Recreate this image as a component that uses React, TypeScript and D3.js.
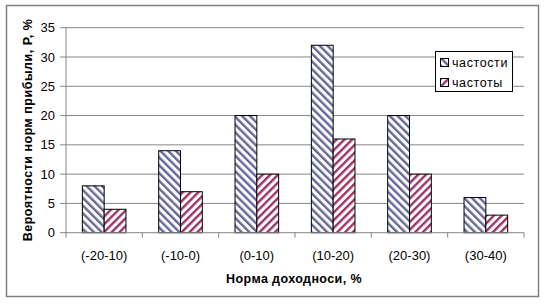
import React from "react";
import * as d3 from "d3";

const categories = ["(-20-10)", "(-10-0)", "(0-10)", "(10-20)", "(20-30)", "(30-40)"];
const seriesNames = ["частости", "частоты"];
const chastosti = [8, 14, 20, 32, 20, 6];
const chastoty = [4, 7, 10, 16, 10, 3];
const yTicks = [0, 5, 10, 15, 20, 25, 30, 35];

const W = 545;
const H = 304;
const plot = { left: 66, right: 524, top: 27.7, bottom: 232.7 };
const FONT = "'Liberation Sans', Arial, sans-serif";

export default function App() {
  const x = d3.scaleBand<string>().domain(categories).range([plot.left, plot.right]).paddingInner(0).paddingOuter(0);
  const inner = d3.scaleBand<string>().domain(seriesNames).range([0, x.bandwidth()]).paddingInner(0).paddingOuter(0.75);
  const y = d3.scaleLinear().domain([0, 35]).range([plot.bottom, plot.top]);
  const series = [
    { name: seriesNames[0], values: chastosti, fill: "url(#patBlue)" },
    { name: seriesNames[1], values: chastoty, fill: "url(#patRed)" },
  ];
  const boundaries = d3.range(categories.length + 1).map((i) => plot.left + i * x.step());
  return (
    <svg width={W} height={H} style={{ position: "absolute", left: 0, top: 0, display: "block" }}>
      <defs>
        <pattern id="patBlue" patternUnits="userSpaceOnUse" width={5.5} height={5.5} patternTransform="rotate(-45)">
          <rect width={5.5} height={5.5} fill="#ffffff" />
          <rect x={0} y={0} width={2.4} height={5.5} fill="#66669c" />
        </pattern>
        <pattern id="patRed" patternUnits="userSpaceOnUse" width={5.5} height={5.5} patternTransform="rotate(45)">
          <rect width={5.5} height={5.5} fill="#ffffff" />
          <rect x={0} y={0} width={2.4} height={5.5} fill="#9c3366" />
        </pattern>
      </defs>
      <rect x={0} y={0} width={W} height={H} fill="#ffffff" />
      <rect x={6.5} y={5.5} width={532} height={291} fill="#ffffff" stroke="#808080" strokeWidth={1.5} />
      {yTicks.map((t) => (
        <g key={t}>
          {t > 0 && <line x1={plot.left} x2={plot.right} y1={y(t)} y2={y(t)} stroke="#868686" strokeWidth={1} />}
          <line x1={plot.left - 6} x2={plot.left} y1={y(t)} y2={y(t)} stroke="#868686" strokeWidth={1} />
          <text x={55} y={y(t)} dy="0.35em" textAnchor="end" fontFamily={FONT} fontSize={13} fill="#000">
            {t}
          </text>
        </g>
      ))}
      {series.map((s) =>
        s.values.map((v, i) => {
          const bx = (x(categories[i]) as number) + (inner(s.name) as number);
          return (
            <rect
              key={s.name + i}
              x={bx}
              y={y(v)}
              width={inner.bandwidth()}
              height={y(0) - y(v)}
              fill={s.fill}
              stroke="#000"
              strokeWidth={1}
            />
          );
        })
      )}
      <line x1={plot.left} x2={plot.left} y1={plot.top} y2={plot.bottom} stroke="#868686" strokeWidth={1} />
      <line x1={plot.left} x2={plot.right} y1={plot.bottom} y2={plot.bottom} stroke="#868686" strokeWidth={1} />
      {boundaries.map((b, i) => (
        <line key={i} x1={b} x2={b} y1={plot.bottom} y2={plot.bottom + 5} stroke="#868686" strokeWidth={1} />
      ))}
      {categories.map((c) => (
        <text key={c} x={(x(c) as number) + x.bandwidth() / 2} y={260} textAnchor="middle" fontFamily={FONT} fontSize={13} fill="#000">
          {c}
        </text>
      ))}
      <text x={294} y={283} textAnchor="middle" fontFamily={FONT} fontSize={12.5} fontWeight="bold" letterSpacing={0.4} fill="#000">
        Норма доходноси, %
      </text>
      <text
        transform={`translate(32,130) rotate(-90)`}
        textAnchor="middle"
        fontFamily={FONT}
        fontSize={12.5}
        fontWeight="bold"
        letterSpacing={0.5}
        fill="#000"
      >
        Вероятности норм прибыли, Р, %
      </text>
      <g>
        <rect x={435.5} y={51.5} width={77} height={40} fill="#ffffff" stroke="#000" strokeWidth={1} />
        {series.map((s, i) => (
          <g key={s.name} transform={`translate(0,${i * 20})`}>
            <rect x={440.5} y={58.5} width={8} height={8} fill={s.fill} stroke="#000" strokeWidth={1} />
            <text x={452} y={63} dy="0.35em" fontFamily={FONT} fontSize={12.5} letterSpacing={0.6} fill="#000">
              {s.name}
            </text>
          </g>
        ))}
      </g>
    </svg>
  );
}
